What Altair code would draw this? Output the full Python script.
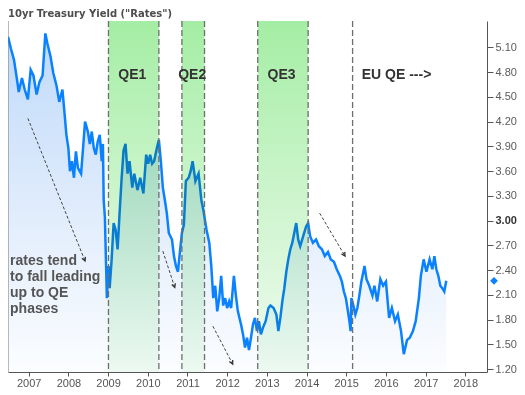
import altair as alt
import pandas as pd

# ---- data ----
years = [2006.48, 2006.55, 2006.63, 2006.70, 2006.75, 2006.83, 2006.90, 2006.98,
         2007.05, 2007.12, 2007.20, 2007.27, 2007.35, 2007.42, 2007.47, 2007.55,
         2007.62, 2007.70, 2007.77, 2007.85, 2007.90, 2007.95, 2008.00, 2008.04,
         2008.09, 2008.14, 2008.19, 2008.24, 2008.32, 2008.37, 2008.42, 2008.49,
         2008.54, 2008.59, 2008.64, 2008.69, 2008.74, 2008.79, 2008.84, 2008.87,
         2008.89, 2008.92, 2008.94, 2008.97, 2009.01, 2009.04, 2009.09, 2009.14,
         2009.19, 2009.24, 2009.29, 2009.34, 2009.39, 2009.44, 2009.49, 2009.54,
         2009.61, 2009.66, 2009.74, 2009.81, 2009.89, 2009.96, 2010.01, 2010.06,
         2010.11, 2010.16, 2010.23, 2010.28, 2010.33, 2010.38, 2010.43, 2010.48,
         2010.53, 2010.61, 2010.66, 2010.71, 2010.76, 2010.81, 2010.86, 2010.91,
         2010.96, 2011.03, 2011.08, 2011.13, 2011.20, 2011.28, 2011.35, 2011.40,
         2011.48, 2011.55, 2011.60, 2011.65, 2011.70, 2011.75, 2011.80, 2011.85,
         2011.90, 2011.95, 2012.00, 2012.05, 2012.10, 2012.17, 2012.22, 2012.27,
         2012.35, 2012.40, 2012.45, 2012.50, 2012.55, 2012.60, 2012.65, 2012.70,
         2012.75, 2012.80, 2012.85, 2012.90, 2012.97, 2013.04, 2013.09, 2013.17,
         2013.24, 2013.29, 2013.34, 2013.39, 2013.44, 2013.49, 2013.54, 2013.59,
         2013.64, 2013.69, 2013.74, 2013.79, 2013.84, 2013.89, 2013.94, 2013.99,
         2014.04, 2014.09, 2014.16, 2014.24, 2014.31, 2014.39, 2014.46, 2014.54,
         2014.61, 2014.69, 2014.76, 2014.84, 2014.89, 2014.94, 2014.99, 2015.03,
         2015.08, 2015.11, 2015.13, 2015.18, 2015.23, 2015.28, 2015.33, 2015.38,
         2015.46, 2015.51, 2015.58, 2015.66, 2015.71, 2015.78, 2015.86, 2015.93,
         2016.00, 2016.08, 2016.15, 2016.23, 2016.30, 2016.38, 2016.45, 2016.53,
         2016.60, 2016.68, 2016.75, 2016.83, 2016.88, 2016.95, 2017.02, 2017.10,
         2017.17, 2017.22, 2017.27, 2017.32, 2017.37, 2017.42, 2017.47, 2017.52]

yields = [5.23, 5.09, 4.95, 4.73, 4.56, 4.73, 4.59, 4.47,
          4.83, 4.76, 4.53, 4.68, 4.76, 5.27, 5.15, 4.99,
          4.79, 4.64, 4.44, 4.59, 4.32, 4.04, 3.88, 3.60,
          3.72, 3.52, 3.84, 3.64, 3.57, 3.88, 4.20, 4.08,
          3.93, 4.08, 3.88, 3.80, 3.96, 4.04, 3.72, 3.93,
          3.25, 3.04, 2.65, 2.06, 2.45, 2.18, 2.53, 2.97,
          2.89, 2.65, 3.09, 3.50, 3.85, 3.93, 3.57, 3.72,
          3.40, 3.57, 3.37, 3.52, 3.33, 3.80, 3.69, 3.80,
          3.69, 3.72, 3.88, 3.98, 3.72, 3.40, 3.25, 3.09,
          2.85, 2.77, 2.57, 2.45, 2.38, 2.62, 2.85, 2.95,
          3.48, 3.52, 3.60, 3.72, 3.48, 3.57, 3.25, 3.13,
          2.89, 2.73, 2.45, 2.06, 2.21, 1.90, 2.06, 2.33,
          1.97, 2.06, 1.94, 2.02, 1.94, 2.33, 2.09, 1.90,
          1.74, 1.62, 1.46, 1.58, 1.43, 1.58, 1.74, 1.82,
          1.66, 1.78, 1.62, 1.70, 1.78, 1.94, 1.97, 1.94,
          1.86, 1.66, 1.82, 2.02, 2.18, 2.38, 2.53, 2.65,
          2.73, 2.85, 2.97, 2.77, 2.69, 2.77, 2.85, 2.93,
          2.97, 2.81, 2.73, 2.77, 2.69, 2.65, 2.57, 2.62,
          2.53, 2.50, 2.41, 2.33, 2.26, 2.14, 2.06, 1.94,
          1.78, 1.66, 2.06, 1.97, 1.86, 1.94, 2.09, 2.26,
          2.45, 2.29, 2.21, 2.09, 2.21, 2.02, 2.29, 2.21,
          2.26, 1.82, 1.94, 1.78, 1.86, 1.66, 1.38, 1.55,
          1.58, 1.66, 1.78, 2.06, 2.33, 2.53, 2.38, 2.53,
          2.41, 2.57, 2.41, 2.33, 2.21, 2.18, 2.14, 2.27]

qe_names = ["QE1", "QE2", "QE3"]
qe_start = [2009.01, 2010.86, 2012.77]
qe_end = [2010.28, 2011.43, 2014.04]
qe_label_year = [2009.61, 2011.12, 2013.37]
eu_qe_start = 2015.16
eu_label = "EU QE --->"
last_value = 2.27
x_ticks = list(range(2007, 2019))
y_ticks = [1.2, 1.5, 1.8, 2.1, 2.4, 2.7, 3.0, 3.3, 3.6, 3.9, 4.2, 4.5, 4.8, 5.1]

arrow_from_year = [2006.98, 2010.38, 2011.64, 2014.33]
arrow_from_val = [4.24, 2.63, 1.72, 3.09]
arrow_to_year = [2008.42, 2010.68, 2012.14, 2014.97]
arrow_to_val = [2.51, 2.19, 1.26, 2.57]
arrow_angle = [158, 162, 153, 149]

title_text = '10yr Treasury Yield ("Rates")'
note_text = "rates tend\nto fall leading\nup to QE\nphases"

# ---- layout ----
W, H = 479, 351
X_DOM = [2006.479, 2018.546]
Y_DOM = [1.164, 5.421]
LINE_BLUE = "#0a82ff"

xs = alt.Scale(domain=X_DOM, nice=False, zero=False)
ys = alt.Scale(domain=Y_DOM, nice=False, zero=False)

x_axis = alt.Axis(values=x_ticks, format="d", grid=False, domain=True,
                  domainColor="#555555", tickColor="#555555", tickSize=4,
                  labelPadding=1, labelFont="Liberation Sans", labelFontSize=11,
                  labelColor="#555555", labelOverlap=False, title=None)
y_axis = alt.Axis(orient="right", values=y_ticks, format=".2f", grid=False,
                  domain=True, domainColor="#555555", tickColor="#555555",
                  tickSize=6, labelPadding=2, labelFont="Liberation Sans",
                  labelFontSize=11, labelOverlap=False, labelSeparation=0,
                  labelColor={"condition": {"test": "abs(datum.value - 3) < 0.001", "value": "#333333"}, "value": "#5a5a5a"},
                  labelFontWeight={"condition": {"test": "abs(datum.value - 3) < 0.001", "value": "bold"}, "value": "normal"},
                  title=None)


def xq(field):
    return alt.X(field, scale=xs, axis=x_axis, title=None)


def yq(field):
    return alt.Y(field, scale=ys, axis=y_axis, title=None, stack=None)


df = pd.DataFrame({"year": years, "v": yields})

blue_grad = alt.Gradient(gradient="linear",
                         stops=[alt.GradientStop(color="#bfdafa", offset=0),
                                alt.GradientStop(color="#e2edfc", offset=0.55),
                                alt.GradientStop(color="#fbfdff", offset=1)],
                         x1=0, x2=0, y1=0, y2=1)
green_grad = alt.Gradient(gradient="linear",
                          stops=[alt.GradientStop(color="#a4eda4", offset=0),
                                 alt.GradientStop(color="#c9f4c9", offset=0.45),
                                 alt.GradientStop(color="#f1fbf1", offset=1)],
                          x1=0, x2=0, y1=0, y2=1)

area = alt.Chart(df).mark_area(fill=blue_grad, interpolate="linear").encode(
    x=xq("year:Q"), y=yq("v:Q"), y2=alt.value(H))
line = alt.Chart(df).mark_line(color=LINE_BLUE, strokeWidth=2.5).encode(
    x=xq("year:Q"), y=yq("v:Q"))

bands_df = pd.DataFrame({"year": qe_start, "year_end": qe_end})
bands = alt.Chart(bands_df).mark_rect(fill=green_grad, blend="multiply").encode(
    x=xq("year:Q"), x2="year_end:Q", y=alt.value(0), y2=alt.value(H))

rules_df = pd.DataFrame({"year": qe_start + qe_end + [eu_qe_start]})
rules = alt.Chart(rules_df).mark_rule(color="#6e6e6e", strokeWidth=1.3,
                                      strokeDash=[6, 3]).encode(x=xq("year:Q"))

left_border = alt.Chart(pd.DataFrame({"k": [0]})).mark_rule(
    color="#777777", strokeWidth=1).encode(
    x=alt.value(0), y=alt.value(0), y2=alt.value(H))

title_mark = alt.Chart(pd.DataFrame({"label": [title_text]})).mark_text(
    font="DejaVu Sans", fontSize=10, fontWeight="bold", color="#4d4d4d",
    align="left", baseline="alphabetic").encode(
    x=alt.value(0), y=alt.value(-4), text="label:N")

qe_lbl_df = pd.DataFrame({"year": qe_label_year, "v": [4.77] * 3, "label": qe_names})
qe_labels = alt.Chart(qe_lbl_df).mark_text(
    font="Liberation Sans", fontSize=14, fontWeight="bold", color="#333333",
    align="center", baseline="middle").encode(
    x=xq("year:Q"), y=yq("v:Q"), text="label:N")

eu_df = pd.DataFrame({"year": [2015.39], "v": [4.77], "label": [eu_label]})
eu_text = alt.Chart(eu_df).mark_text(
    font="Liberation Sans", fontSize=14, fontWeight="bold", color="#333333",
    align="left", baseline="middle").encode(
    x=xq("year:Q"), y=yq("v:Q"), text="label:N")

note_df = pd.DataFrame({"year": [2006.53], "v": [2.46], "label": [note_text]})
note = alt.Chart(note_df).mark_text(
    font="Liberation Sans", fontSize=14, fontWeight="bold", color="#555555",
    align="left", baseline="alphabetic", lineBreak="\n", lineHeight=16).encode(
    x=xq("year:Q"), y=yq("v:Q"), text="label:N")

arr_df = pd.DataFrame({"year": arrow_from_year, "v": arrow_from_val,
                       "year_end": arrow_to_year, "v_end": arrow_to_val,
                       "angle": arrow_angle})
arrow_lines = alt.Chart(arr_df).mark_rule(color="#444444", strokeWidth=1,
                                          strokeDash=[3, 2]).encode(
    x=xq("year:Q"), y=yq("v:Q"), x2="year_end:Q", y2="v_end:Q")
arrow_heads = alt.Chart(arr_df).mark_point(
    shape="M -1 2 L 0 0 L 1 2", filled=False, color="#333333", strokeWidth=1.3,
    size=14, opacity=1).encode(
    x=xq("year_end:Q"), y=yq("v_end:Q"),
    angle=alt.Angle("angle:Q", scale=None))

last_df = pd.DataFrame({"v": [last_value]})
marker = alt.Chart(last_df).mark_point(shape="diamond", filled=True, size=60,
                                       color=LINE_BLUE, opacity=1).encode(
    x=alt.value(W + 7), y=yq("v:Q"))

chart = alt.layer(area, line, bands, rules, left_border, arrow_lines, arrow_heads,
                  qe_labels, eu_text, note, title_mark, marker).properties(
    width=W, height=H,
    autosize=alt.AutoSizeParams(type="none"),
    padding={"left": 0, "top": 13, "right": 30, "bottom": 15}
).configure_view(stroke=None)

chart.save("out.html", embed_options={"renderer": "svg", "actions": False})
